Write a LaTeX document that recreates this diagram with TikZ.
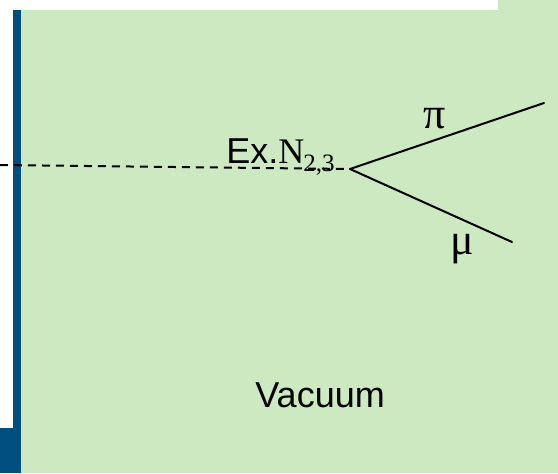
\documentclass[tikz,border=0pt]{standalone}
\usepackage{fontspec}
\setmainfont{Liberation Serif}
\setsansfont{Liberation Sans}
\usetikzlibrary{positioning}
\definecolor{vacgreen}{HTML}{CCE9C2}
\definecolor{wallblue}{HTML}{00507F}
\tikzset{
  track/.style={line width=1pt, draw=black, line cap=round},
  beamline/.style={line width=1pt, draw=black, dash pattern=on 4pt off 3pt},
  label/.style={inner sep=0pt, font=\fontsize{18}{21}\selectfont},
  greeklabel/.style={inner sep=0pt, font=\fontsize{22}{26}\selectfont},
  sublabel/.style={inner sep=0pt, font=\fontsize{12.5}{15}\selectfont}
}

\begin{document}
\begin{tikzpicture}[x=0.5pt, y=-0.5pt]
        \useasboundingbox (0,0) rectangle (558,473);
        % vacuum region and wall
        \fill[vacgreen] (21,0) rectangle (558,473);
        \fill[white] (0,0) rectangle (498,10);
        \fill[wallblue] (13,10) rectangle (21,473);
        \fill[wallblue] (0,428) rectangle (21,473);
        % decay vertex and tracks
        \coordinate (beam) at (0,165);
        \coordinate (vtx) at (350,169);
        \coordinate (piend) at (544,103);
        \coordinate (muend) at (512,242);
        \draw[beamline] (beam) -- (vtx);
        \draw[track] (vtx) -- (piend);
        \draw[track] (vtx) -- (muend);
        \node[label, anchor=base west] (ex) at (226,163) {\sffamily Ex.\rmfamily N};
        \node[sublabel, anchor=base west] (sub) at (303,171) {2,3};
        \node[greeklabel, anchor=base] (pi) at (435,128) {π};
        \node[greeklabel, anchor=base] (mu) at (462,254) {μ};
        \node[label, anchor=base west] (vac) at (255,407) {\sffamily Vacuum};
    \end{tikzpicture}
\end{document}
